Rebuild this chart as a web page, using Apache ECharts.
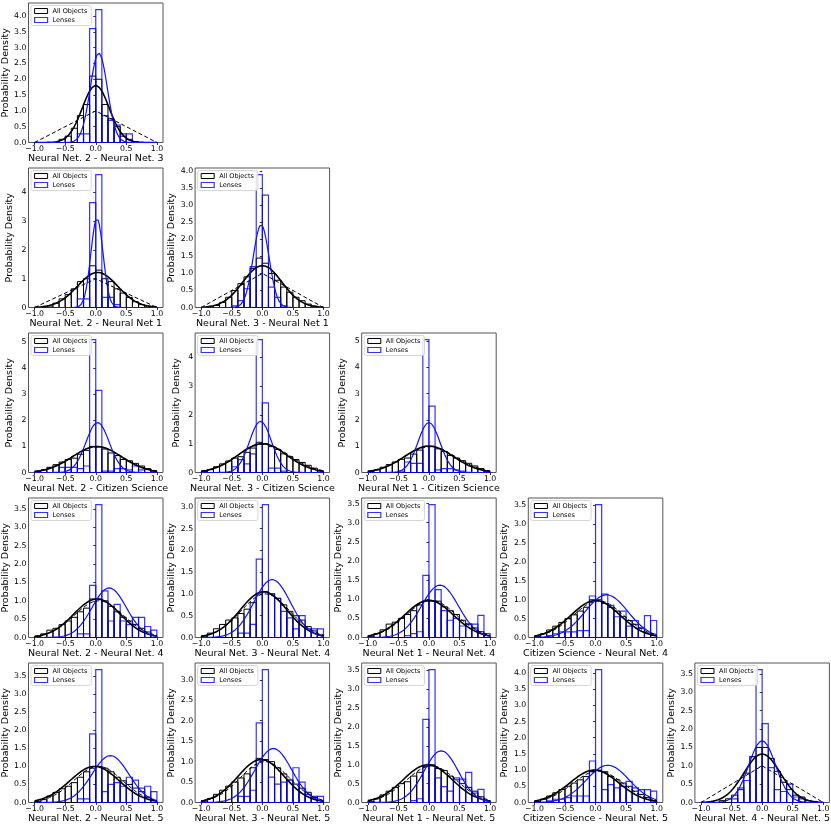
<!DOCTYPE html>
<html><head><meta charset="utf-8">
<script src="https://cdn.jsdelivr.net/npm/echarts@6/dist/echarts.min.js"></script>
<style>html,body{margin:0;padding:0;background:#fff}#c{width:831px;height:824px}</style>
</head><body><div id="c"></div>
<script>
// ---------- DATA ----------
const binEdges = [-1.0,-0.9,-0.8,-0.7,-0.6,-0.5,-0.4,-0.3,-0.2,-0.1,0.0,0.1,0.2,0.3,0.4,0.5,0.6,0.7,0.8,0.9,1.0];
const xTickValues = [-1.0,-0.5,0.0,0.5,1.0];
const panelTitles = [
  "Neural Net. 2 - Neural Net. 3",
  "Neural Net. 2 - Neural Net 1", "Neural Net. 3 - Neural Net 1",
  "Neural Net. 2 - Citizen Science", "Neural Net. 3 - Citizen Science", "Neural Net 1 - Citizen Science",
  "Neural Net. 2 - Neural Net. 4", "Neural Net. 3 - Neural Net. 4", "Neural Net 1 - Neural Net. 4", "Citizen Science - Neural Net. 4",
  "Neural Net. 2 - Neural Net. 5", "Neural Net. 3 - Neural Net. 5", "Neural Net 1 - Neural Net. 5", "Citizen Science - Neural Net. 5", "Neural Net. 4 - Neural Net. 5"
];
const panelRow = [0,1,1,2,2,2,3,3,3,3,4,4,4,4,4];
const panelCol = [0,0,1,0,1,2,0,1,2,3,0,1,2,3,4];
const yTickStep = [0.5,1,0.5,1,1,1,0.5,0.5,0.5,0.5,0.5,0.5,0.5,0.5,0.5];

const allObjects = [
  [0,0,0,0,0.1,0.2,0.45,0.85,1.2,2.1,2.0,1.2,0.75,0.5,0.2,0.1,0.03,0,0,0],
  [0,0.02,0.05,0.15,0.3,0.45,0.65,0.9,1.0,1.45,1.3,1.0,0.9,0.65,0.5,0.35,0.2,0.1,0.05,0.02],
  [0,0.02,0.06,0.15,0.3,0.5,0.7,0.9,1.15,1.45,1.3,1.0,0.8,0.6,0.45,0.3,0.2,0.1,0.04,0.01],
  [0.03,0.1,0.2,0.3,0.4,0.5,0.55,0.7,0.85,1.0,0.98,0.9,0.75,0.65,0.5,0.45,0.35,0.25,0.15,0.05],
  [0.03,0.1,0.2,0.3,0.4,0.5,0.55,0.7,0.85,1.05,1.0,0.9,0.8,0.65,0.55,0.45,0.35,0.25,0.15,0.05],
  [0.03,0.1,0.2,0.3,0.4,0.5,0.55,0.7,0.85,1.0,1.0,0.9,0.8,0.65,0.55,0.45,0.35,0.25,0.15,0.05],
  [0.03,0.1,0.2,0.25,0.35,0.45,0.55,0.7,0.8,1.05,1.05,1.0,0.85,0.7,0.55,0.45,0.35,0.25,0.15,0.05],
  [0.03,0.1,0.2,0.3,0.4,0.45,0.55,0.65,0.8,1.0,1.05,1.0,0.9,0.75,0.6,0.5,0.4,0.25,0.15,0.05],
  [0.03,0.1,0.2,0.35,0.4,0.5,0.6,0.7,0.85,0.95,0.95,0.95,0.8,0.7,0.6,0.45,0.35,0.25,0.15,0.05],
  [0.03,0.1,0.2,0.3,0.4,0.5,0.6,0.7,0.8,1.0,1.0,0.9,0.8,0.7,0.55,0.45,0.35,0.25,0.12,0.05],
  [0.03,0.08,0.18,0.28,0.38,0.45,0.55,0.7,0.85,0.95,1.0,0.95,0.85,0.7,0.6,0.5,0.4,0.3,0.15,0.05],
  [0.03,0.1,0.2,0.3,0.4,0.5,0.6,0.7,0.85,1.08,1.05,1.0,0.85,0.7,0.55,0.45,0.35,0.25,0.12,0.05],
  [0.03,0.1,0.2,0.3,0.4,0.5,0.55,0.7,0.8,0.95,1.0,0.9,0.85,0.7,0.6,0.5,0.4,0.3,0.15,0.05],
  [0.03,0.1,0.2,0.3,0.4,0.5,0.6,0.7,0.8,0.95,1.0,0.95,0.8,0.7,0.6,0.5,0.35,0.25,0.15,0.05],
  [0,0,0,0.05,0.1,0.2,0.35,0.8,1.25,1.5,1.5,1.2,0.85,0.55,0.35,0.2,0.15,0.05,0.03,0]
];
const lenses = [
  [0,0,0,0,0,0,0,0.27,0.27,3.6,4.2,0.85,0.7,0.55,0.27,0.27,0,0,0,0],
  [0,0,0,0,0,0,0,0.3,0.3,3.65,4.62,0.35,0.35,0.1,0,0,0,0,0,0],
  [0,0,0,0,0,0.05,0.2,0.55,1.2,3.9,3.3,0.6,0.3,0.05,0,0,0,0,0,0],
  [0,0,0,0,0.2,0.2,0.2,0.15,0.25,5.1,3.15,0.05,0.05,0.15,0.15,0.1,0.25,0.1,0,0],
  [0,0,0,0,0,0.2,0.45,0.3,0.65,4.62,2.42,0.15,0.15,0.05,0,0,0,0,0,0],
  [0,0,0,0,0,0.05,0.4,0.35,0.35,5.05,2.52,0.1,0.15,0.15,0.1,0.05,0,0,0,0],
  [0,0,0,0,0,0,0,0.1,0.1,1.42,3.62,1.27,0.45,0.9,0.45,0.35,0.55,0.55,0.3,0.2],
  [0,0,0,0,0,0,0.1,0.1,0.3,1.8,3.05,1.0,0.9,0.6,0.45,0.2,0.5,0.2,0.2,0.2],
  [0,0,0,0,0,0,0.05,0.1,0.15,1.62,3.47,1.25,0.7,0.45,0.5,0.3,0.35,0.35,0.58,0.1],
  [0,0,0.05,0.1,0.15,0.15,0.15,0.18,0.18,1.1,3.52,1.15,0.85,0.55,0.7,0.3,0.45,0.25,0.58,0.45],
  [0,0,0,0,0,0,0,0.1,0.1,1.9,3.68,0.3,0.5,0.55,0.45,0.7,0.62,0.4,0.45,0.3],
  [0,0,0,0,0,0,0.15,0.15,0.3,1.95,3.25,0.62,0.45,0.5,0.55,0.85,0.5,0.2,0.15,0.15],
  [0,0,0,0,0,0,0,0.05,0.1,2.2,3.52,0.65,0.42,0.3,0.65,0.62,0.8,0.25,0.35,0.05],
  [0,0,0.05,0.1,0.1,0.15,0.2,0.2,0.2,1.28,4.1,0.4,0.55,0.45,0.5,0.65,0.45,0.4,0.4,0.35],
  [0,0,0,0,0,0.1,0.4,0.6,1.25,3.62,2.15,0.95,0.35,0.3,0.5,0.15,0.1,0,0,0]
];
// Gaussian fit parameters: [mean, sigma, peak]
const allFit = [
  [0.0,0.22,1.8],[0.03,0.33,1.22],[0.0,0.32,1.23],[0.02,0.4,1.0],[0.0,0.4,1.0],[0.0,0.4,1.0],
  [0.02,0.38,1.05],[0.02,0.38,1.05],[0.0,0.4,0.97],[0.0,0.4,0.98],
  [-0.02,0.4,1.0],[-0.02,0.38,1.05],[-0.02,0.4,1.0],[-0.02,0.4,1.0],[0.0,0.3,1.32]
];
const lensFit = [
  [0.05,0.14,2.83],[0.02,0.1,3.1],[-0.02,0.13,2.43],[0.03,0.19,1.92],[-0.03,0.18,1.78],[0.0,0.18,1.9],
  [0.22,0.28,1.35],[0.16,0.3,1.33],[0.18,0.3,1.37],[0.18,0.35,1.13],
  [0.24,0.3,1.3],[0.18,0.3,1.32],[0.2,0.28,1.37],[0.2,0.35,1.15],[0.0,0.22,1.68]
];
// reference (dashed) curve: triangle for NN-NN pairs, gaussian otherwise
const refTriangle = [[-1,0],[0,1],[1,0]];
const refIsTriangle = [true,true,true,false,false,false,false,false,false,false,false,false,false,false,true];
const refFit = [
  null,null,null,[0.02,0.42,0.98],[0.02,0.42,0.98],[0.02,0.42,0.98],
  [0.05,0.4,1.0],[0.05,0.4,1.0],[0.04,0.41,0.97],[0.05,0.41,0.97],
  [0.04,0.4,1.0],[0.04,0.4,1.0],[0.04,0.41,0.97],[0.04,0.41,0.97],null
];

// ---------- LAYOUT ----------
const colLeft = [28.5,195.1,361.7,528.3,694.9];
const rowTop = [3,168,333,498,663];
const gw = 134.5, gh = 139.5;
const FONT = 'DejaVu Sans';
const BLUE = 'rgba(0,0,255,0.8)';

function gaussCurve(p){
  const pts = [];
  for(let k=0;k<=100;k++){
    const x = -1 + k*0.02;
    pts.push([x, p[2]*Math.exp(-((x-p[0])*(x-p[0]))/(2*p[1]*p[1]))]);
  }
  return pts;
}
function fmtX(v){ return (v<0?'\u2212':'') + Math.abs(v).toFixed(1); }

const grids=[], xAxes=[], yAxes=[], series=[], legends=[];
panelTitles.forEach((title,i)=>{
  const left = colLeft[panelCol[i]], top = rowTop[panelRow[i]];
  grids.push({left, top, width:gw, height:gh, show:true, borderColor:'#555', borderWidth:1, backgroundColor:'transparent', containLabel:false, outerBoundsMode:'none'});
  const ymax = Math.max(...lenses[i], ...allObjects[i])*1.05;
  const step = yTickStep[i];
  const yt = []; for(let v=0; v<=ymax+1e-9; v+=step) yt.push(Math.round(v*100)/100);
  xAxes.push({type:'value', gridIndex:i, min:-1.1, max:1.1, name:title, nameLocation:'middle', nameGap:8,
    nameTextStyle:{fontSize:9.5, color:'#000', fontFamily:FONT},
    axisLine:{show:false}, splitLine:{show:false},
    axisTick:{show:true, length:2.5, lineStyle:{color:'#000', width:0.8}, customValues:xTickValues},
    axisLabel:{fontSize:7.8, color:'#000', fontFamily:FONT, margin:2, customValues:xTickValues, formatter:fmtX}});
  yAxes.push({type:'value', gridIndex:i, min:0, max:ymax, name:'Probability Density', nameLocation:'middle', nameGap:14,
    nameTextStyle:{fontSize:9.5, color:'#000', fontFamily:FONT},
    axisLine:{show:false}, splitLine:{show:false},
    axisTick:{show:true, length:2.5, lineStyle:{color:'#000', width:0.8}, customValues:yt},
    axisLabel:{fontSize:7.8, color:'#000', fontFamily:FONT, margin:2, customValues:yt,
      formatter:v=> step>=1 ? String(Math.round(v)) : v.toFixed(1)}});
  const mkHist=(name, vals, color, lw)=>({
    type:'custom', name, xAxisIndex:i, yAxisIndex:i, silent:true, z:2,
    itemStyle:{color:'rgba(0,0,0,0)', borderColor:color, borderWidth:1},
    data: vals.map((h,b)=>[binEdges[b], binEdges[b+1], h]),
    encode:{x:[0,1], y:2},
    renderItem:(params, api)=>{
      const h = api.value(2); if(!(h>0)) return null;
      const p0 = api.coord([api.value(0), h]); const p1 = api.coord([api.value(1), 0]);
      return {type:'rect', shape:{x:p0[0], y:p0[1], width:p1[0]-p0[0], height:p1[1]-p0[1]},
        style:{fill:'none', stroke:color, lineWidth:lw}};
    }
  });
  series.push(mkHist('All Objects', allObjects[i], '#000', 1));
  series.push(mkHist('Lenses', lenses[i], BLUE, 1.2));
  series.push({type:'line', name:'allfit', xAxisIndex:i, yAxisIndex:i, data:gaussCurve(allFit[i]), showSymbol:false, symbol:'none', silent:true, z:4,
    lineStyle:{color:'#000', width:1.6}});
  series.push({type:'line', name:'lensfit', xAxisIndex:i, yAxisIndex:i, data:gaussCurve(lensFit[i]), showSymbol:false, symbol:'none', silent:true, z:4,
    lineStyle:{color:'#1010ff', width:1.2}});
  series.push({type:'line', name:'ref', xAxisIndex:i, yAxisIndex:i, data: refIsTriangle[i] ? refTriangle : gaussCurve(refFit[i]), showSymbol:false, symbol:'none', silent:true, z:4,
    lineStyle:{color:'#000', width:1, type:[4,2.5]}});
  legends.push({left:left+2.5, top:top+2.5, orient:'vertical', itemWidth:13, itemHeight:5, itemGap:2,
    padding:[2,4,2,3], backgroundColor:'rgba(255,255,255,0.85)', borderColor:'#ccc', borderWidth:0.8, borderRadius:2,
    selectedMode:false, icon:'rect', z:10,
    textStyle:{fontSize:6.5, color:'#000', fontFamily:FONT},
    data:[
      {name:'All Objects', icon:'rect', itemStyle:{color:'rgba(0,0,0,0)', borderColor:'#000', borderWidth:1}},
      {name:'Lenses', icon:'rect', itemStyle:{color:'rgba(0,0,0,0)', borderColor:BLUE, borderWidth:1.2}}
    ]});
});

const chart = echarts.init(document.getElementById('c'), null, {renderer:'canvas'});
chart.setOption({animation:false, backgroundColor:'#fff', grid:grids, xAxis:xAxes, yAxis:yAxes, legend:legends, series});
</script></body></html>
